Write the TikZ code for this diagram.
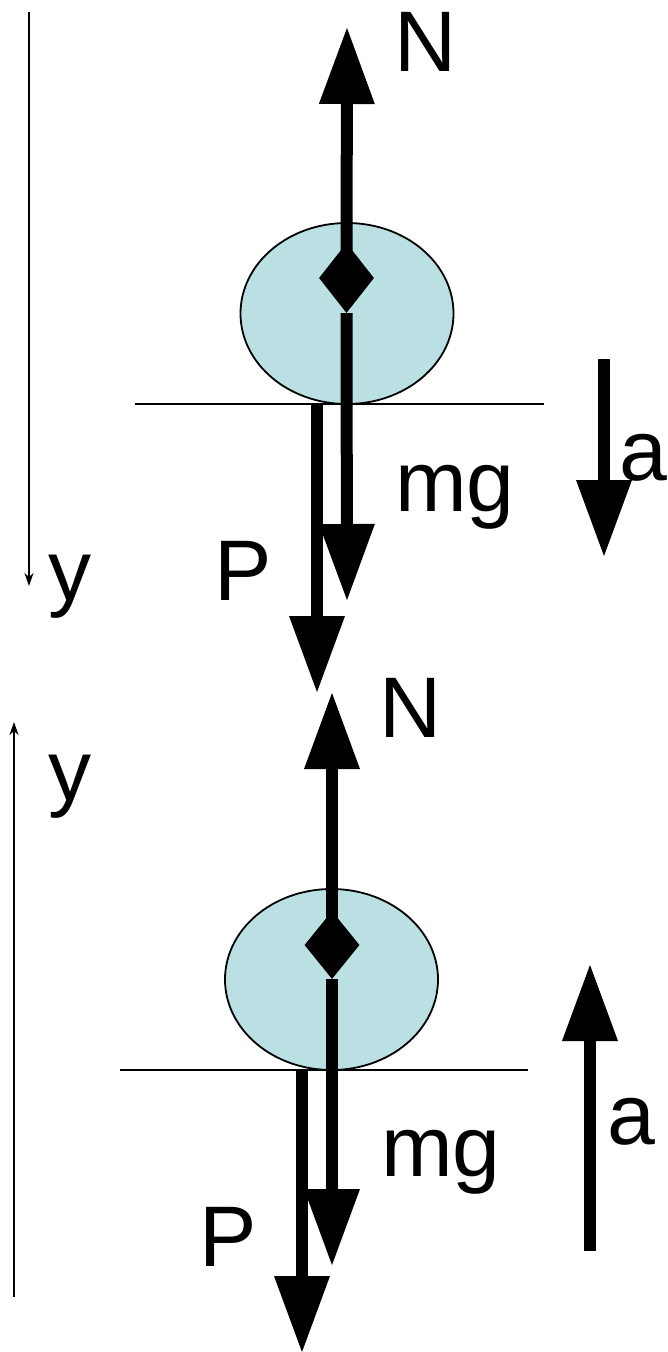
\documentclass[tikz,border=0pt]{standalone}
\usepackage{fontspec}
\setmainfont{Liberation Sans}
\usetikzlibrary{arrows.meta,shapes.geometric}
\definecolor{ballblue}{RGB}{187,224,227}
\tikzset{
  force/.style={line width=12pt,-{Triangle[width=56pt,length=76pt,line width=0pt]}},
  axisline/.style={line width=1.5pt,-{Stealth[length=13pt,width=9pt,inset=4pt]}},
  ground/.style={line width=1.5pt},
  ball/.style={ellipse,draw=black,line width=1.8pt,fill=ballblue,minimum width=213pt,minimum height=181pt,inner sep=0pt},
  pivot/.style={diamond,fill=black,draw=none,inner sep=0pt,minimum width=55pt,minimum height=70pt},
  lab/.style={anchor=base,inner sep=0pt,font=\fontsize{86}{100}\selectfont}
}
\begin{document}
\begin{tikzpicture}[x=1pt,y=-1pt]
\useasboundingbox (0,0) rectangle (667,1352);
% ---------- top panel ----------
\node[ball] (b1) at (347,313.5) {};
\coordinate (g1l) at (135,404);
\coordinate (g1r) at (544,404);
\draw[ground] (g1l) -- (g1r);
\node[pivot] (d1) at (346.5,278) {};
\coordinate (n1) at (347,28);
\coordinate (m1) at (347,600);
\coordinate (p1s) at (317,404);
\coordinate (p1) at (317,692);
\coordinate (a1s) at (604,359);
\coordinate (a1) at (604,556);
\coordinate (y1s) at (29,12);
\coordinate (y1) at (29,586);
\draw[force] (d1.center) -- (n1);
\draw[force] (d1.south) -- (m1);
\draw[force] (p1s) -- (p1);
\draw[force] (a1s) -- (a1);
\draw[axisline] (y1s) -- (y1);
\node[lab] (N1) at (426,71) {N};
\node[lab] (mg1) at (455,511) {mg};
\node[lab] (A1) at (643,480) {a};
\node[lab] (P1) at (243,600) {P};
\node[lab] (Y1) at (69.5,600) {y};
% ---------- bottom panel ----------
\node[ball] (b2) at (331.5,979.5) {};
\coordinate (g2l) at (119.5,1070);
\coordinate (g2r) at (528,1070);
\draw[ground] (g2l) -- (g2r);
\node[pivot,minimum height=68pt] (d2) at (332,945) {};
\coordinate (n2) at (332,693);
\coordinate (m2) at (332,1265);
\coordinate (p2s) at (302,1070);
\coordinate (p2) at (302,1352);
\coordinate (a2s) at (590,1251);
\coordinate (a2) at (590,965);
\coordinate (y2s) at (14,1297);
\coordinate (y2) at (14,722);
\draw[force] (d2.center) -- (n2);
\draw[force] (d2.south) -- (m2);
\draw[force] (p2s) -- (p2);
\draw[force] (a2s) -- (a2);
\draw[axisline] (y2s) -- (y2);
\node[lab] (N2) at (411,737) {N};
\node[lab] (mg2) at (441,1176) {mg};
\node[lab] (A2) at (631,1144) {a};
\node[lab] (P2) at (228,1266) {P};
\node[lab] (Y2) at (69.5,800) {y};
\end{tikzpicture}
\end{document}
